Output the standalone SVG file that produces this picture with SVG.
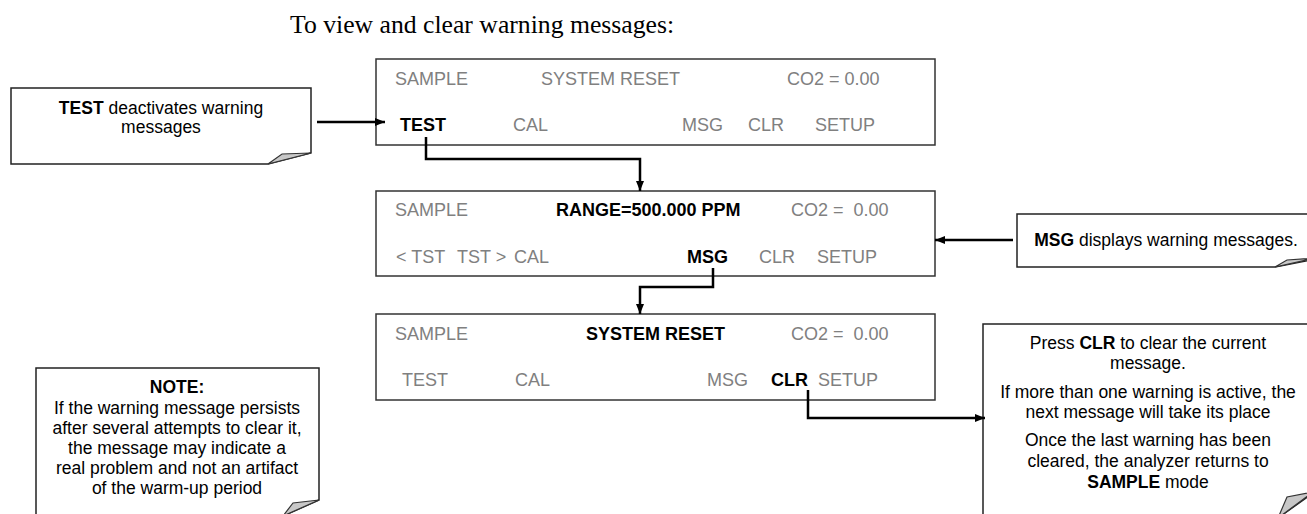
<svg xmlns="http://www.w3.org/2000/svg" width="1307" height="514" viewBox="0 0 1307 514">
<defs>
<marker id="ah" markerWidth="10" markerHeight="8" refX="10" refY="4" orient="auto" markerUnits="userSpaceOnUse">
<path d="M0,0 L10,4 L0,8 Z" fill="#000"/>
</marker>
<style>
.disp{fill:#fff;stroke:#333;stroke-width:1.5}
.note{fill:#fff;stroke:#222;stroke-width:1.5}
.fold{fill:#c8c8c8;stroke:#333;stroke-width:1.2;stroke-linejoin:miter}
.d{font-family:"Liberation Sans",Arial,sans-serif;font-size:18px;fill:#808080}
.b{font-weight:bold;fill:#000}
.n{font-family:"Liberation Sans",Arial,sans-serif;font-size:17.5px;fill:#000;text-anchor:middle}
.conn{fill:none;stroke:#000;stroke-width:2.5}
</style>
</defs>
<rect width="1307" height="514" fill="#fff"/>
<text x="290" y="33" font-family="Liberation Serif, Times New Roman, serif" font-size="25.7" fill="#000">To view and clear warning messages:</text>

<g id="display1">
<rect class="disp" x="376" y="59" width="559" height="86"/>
<text class="d" x="395" y="84.5">SAMPLE</text>
<text class="d" x="541" y="84.5">SYSTEM RESET</text>
<text class="d" x="787" y="84.5">CO2 = 0.00</text>
<text class="d b" x="400" y="131">TEST</text>
<text class="d" x="513" y="131">CAL</text>
<text class="d" x="682" y="131">MSG</text>
<text class="d" x="748" y="131">CLR</text>
<text class="d" x="815" y="131">SETUP</text>
</g>

<g id="display2">
<rect class="disp" x="376" y="191" width="559" height="85"/>
<text class="d" x="395" y="215.5">SAMPLE</text>
<text class="d b" x="556" y="215.5">RANGE=500.000 PPM</text>
<text class="d" x="791" y="215.5" xml:space="preserve">CO2 =  0.00</text>
<text class="d" x="396" y="262.5">&lt; TST</text>
<text class="d" x="457" y="262.5">TST &gt;</text>
<text class="d" x="514" y="262.5">CAL</text>
<text class="d b" x="687" y="262.5">MSG</text>
<text class="d" x="759" y="262.5">CLR</text>
<text class="d" x="817" y="262.5">SETUP</text>
</g>

<g id="display3">
<rect class="disp" x="376" y="314" width="559" height="86"/>
<text class="d" x="395" y="340">SAMPLE</text>
<text class="d b" x="586" y="340">SYSTEM RESET</text>
<text class="d" x="791" y="340" xml:space="preserve">CO2 =  0.00</text>
<text class="d" x="402" y="386">TEST</text>
<text class="d" x="515" y="386">CAL</text>
<text class="d" x="707" y="386">MSG</text>
<text class="d b" x="771" y="386">CLR</text>
<text class="d" x="818" y="386">SETUP</text>
</g>

<g id="note-test">
<path class="note" d="M11,88 H311 V153 L268,164 H11 Z"/>
<path class="fold" d="M268,164 L282,154 L311,153 Z"/>
<text class="n" x="161" y="114"><tspan font-weight="bold">TEST</tspan> deactivates warning</text>
<text class="n" x="161" y="133">messages</text>
</g>

<g id="note-msg">
<path class="note" d="M1017,214 H1316 V259 L1275,267 H1017 Z"/>
<path class="fold" d="M1275,267 L1287,260 L1316,258 Z"/>
<text class="n" x="1166" y="246"><tspan font-weight="bold">MSG</tspan> displays warning messages.</text>
</g>

<g id="note-warning">
<path class="note" d="M36,368 H319 V500 L283,516 H36 Z"/>
<path class="fold" d="M283,516 L293,503 L319,500 Z"/>
<text class="n" x="177" y="393" font-weight="bold">NOTE:</text>
<text class="n" x="177" y="414">If the warning message persists</text>
<text class="n" x="177" y="434">after several attempts to clear it,</text>
<text class="n" x="177" y="454">the message may indicate a</text>
<text class="n" x="177" y="474">real problem and not an artifact</text>
<text class="n" x="177" y="494">of the warm-up period</text>
</g>

<g id="note-clr">
<path class="note" d="M983,324 H1313 V493 L1278,518 H983 Z"/>
<path class="fold" d="M1278,518 L1287,497 L1313,492 Z"/>
<text class="n" x="1148" y="349">Press <tspan font-weight="bold">CLR</tspan> to clear the current</text>
<text class="n" x="1148" y="369">message.</text>
<text class="n" x="1148" y="398">If more than one warning is active, the</text>
<text class="n" x="1148" y="418">next message will take its place</text>
<text class="n" x="1148" y="446">Once the last warning has been</text>
<text class="n" x="1148" y="467">cleared, the analyzer returns to</text>
<text class="n" x="1148" y="488"><tspan font-weight="bold">SAMPLE</tspan> mode</text>
</g>

<g id="connectors">
<path class="conn" d="M317,122 H385" marker-end="url(#ah)"/>
<path class="conn" d="M426,137 V159 H640 V191" marker-end="url(#ah)"/>
<path class="conn" d="M1013,240 H935" marker-end="url(#ah)"/>
<path class="conn" d="M713,268 V287 H640 V314" marker-end="url(#ah)"/>
<path class="conn" d="M808,390 V418 H985" marker-end="url(#ah)"/>
</g>
</svg>
